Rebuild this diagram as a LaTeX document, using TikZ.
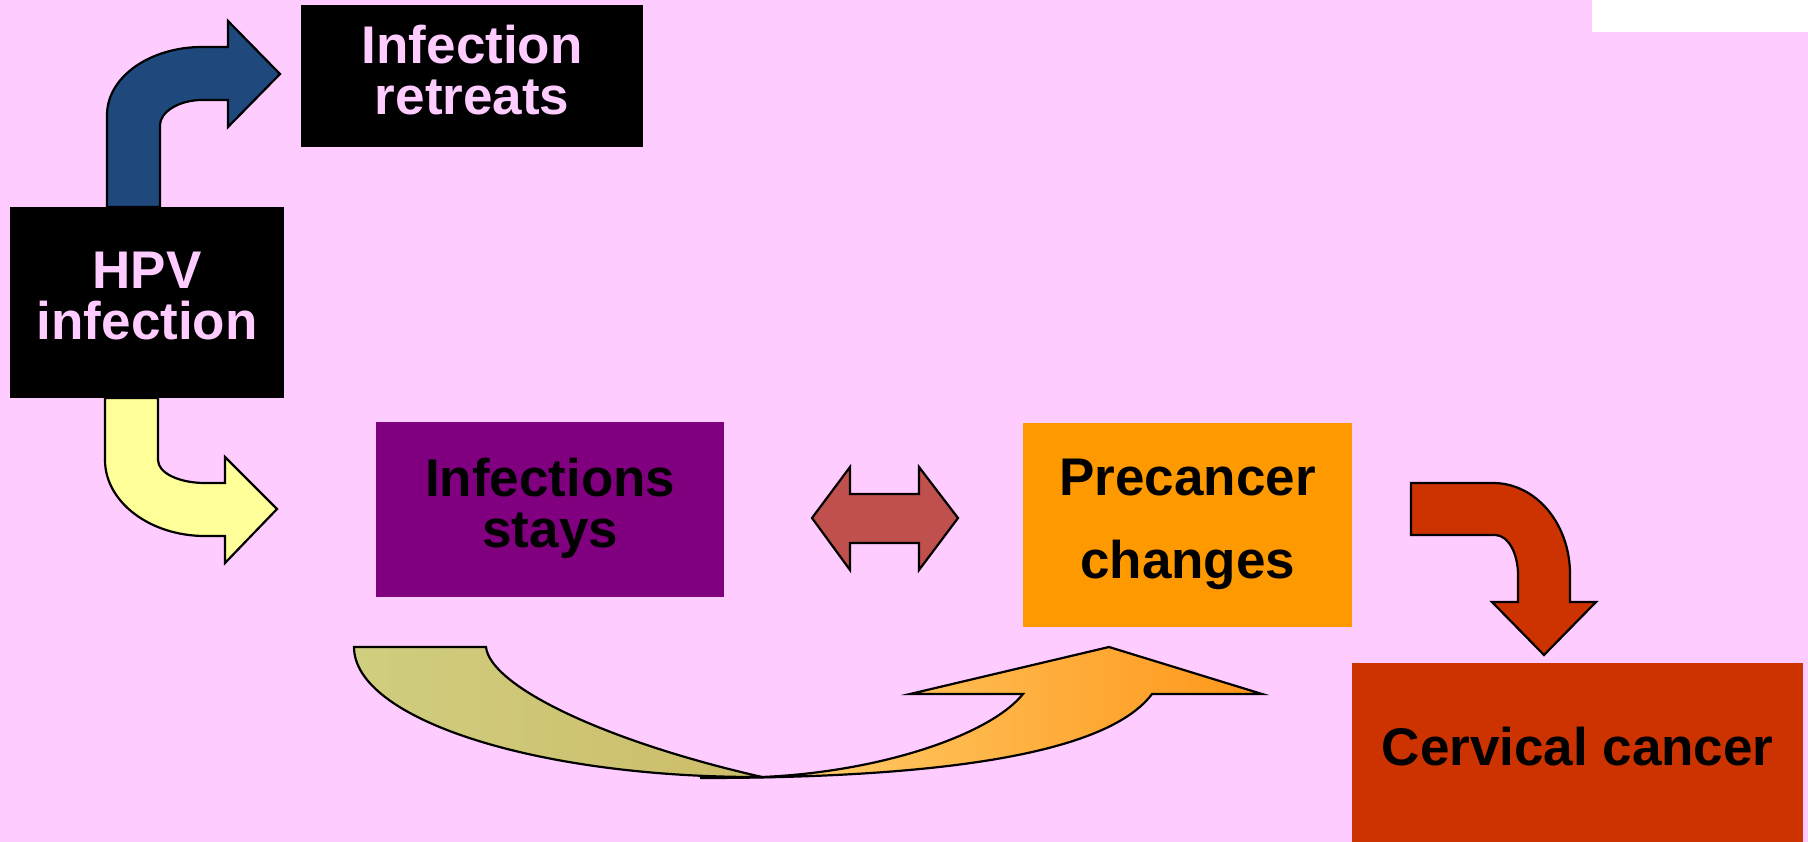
\documentclass[tikz,border=0pt]{standalone}
\usepackage{fontspec}
\setmainfont{Liberation Sans}
\usepackage{tikz}
\usetikzlibrary{positioning}

\definecolor{bgpink}{RGB}{255,204,255}
\definecolor{retreatblue}{RGB}{31,73,125}
\definecolor{stayyellow}{RGB}{255,255,153}
\definecolor{stayspurple}{RGB}{128,0,128}
\definecolor{precorange}{RGB}{255,153,0}
\definecolor{cancerred}{RGB}{204,51,0}
\definecolor{backred}{RGB}{192,80,77}
\definecolor{oliveleft}{RGB}{208,206,128}
\definecolor{oliveright}{RGB}{204,188,104}
\definecolor{orangeleft}{RGB}{255,214,120}
\definecolor{orangeright}{RGB}{255,150,25}

\begin{document}
\begin{tikzpicture}[
    x=1pt, y=-1pt,
    box/.style={anchor=north west, inner sep=0pt, align=center, text depth=13pt, font=\fontsize{53}{51}\selectfont\bfseries},
    darkbox/.style={box, fill=black, text=bgpink},
    outline/.style={draw=black, line width=2.2pt, line join=miter}
]
% Background
\fill[bgpink] (0,0) rectangle (1808,842);
\useasboundingbox (0,0) rectangle (1808,842);
\fill[white] (1592,0) rectangle (1808,32);

% Bent arrows out of HPV infection
\draw[outline, fill=retreatblue] (107,207) -- (107,115) .. controls (107,77) and (150,47) .. (202,47)
    -- (228,47) -- (228,21) -- (280,74) -- (228,127) -- (228,100) -- (202,100)
    .. controls (179,100) and (160,112) .. (160,125) -- (160,207) -- cycle;
\draw[outline, fill=stayyellow] (105,398) -- (105,460) .. controls (105,502) and (150,536) .. (205,536)
    -- (225,536) -- (225,563) -- (277,509) -- (225,457) -- (225,483) -- (205,483)
    .. controls (179,483) and (158,473) .. (158,460) -- (158,398) -- cycle;

% Two-way arrow
\draw[outline, fill=backred] (812,518) -- (850,467) -- (850,494) -- (919,494) -- (919,467)
    -- (958,518) -- (919,570) -- (919,543) -- (850,543) -- (850,570) -- cycle;

% Bent arrow down to cancer
\draw[outline, fill=cancerred] (1411,483) -- (1493,483) .. controls (1536,483) and (1570,524) .. (1570,574)
    -- (1570,602) -- (1596,602) -- (1544,655) -- (1492,602) -- (1518,602) -- (1518,575)
    .. controls (1518,553) and (1508,535) .. (1495,535) -- (1411,535) -- cycle;

% Curved arrow under the boxes
\draw[outline, left color=orangeleft, right color=orangeright] (762,777) .. controls (880,772) and (990,735) .. (1023,694)
    -- (910,694) -- (1109,647) -- (1262,694) -- (1152,694)
    .. controls (1110,750) and (960,778) .. (700,778) -- cycle;
\draw[outline, left color=oliveleft, right color=oliveright] (354,647) -- (486,647)
    .. controls (490,685) and (600,740) .. (762,777)
    .. controls (537,778) and (354,719) .. (354,647) -- cycle;

% Boxes
\node[darkbox, minimum width=342pt, minimum height=142pt] (retreats) at (301,5) {Infection\\retreats};
\node[darkbox, minimum width=274pt, minimum height=191pt] (hpv) at (10,207) {HPV\\infection};
\node[box, fill=stayspurple, minimum width=348pt, minimum height=175pt] (stays) at (376,422) {Infections\\stays};
\node[box, fill=precorange, minimum width=329pt, minimum height=204pt] (precancer) at (1023,423) {Precancer\\[32pt]changes};
\node[box, fill=cancerred, minimum width=451pt, minimum height=179pt] (cancer) at (1352,663) {Cervical cancer};
\end{tikzpicture}
\end{document}
